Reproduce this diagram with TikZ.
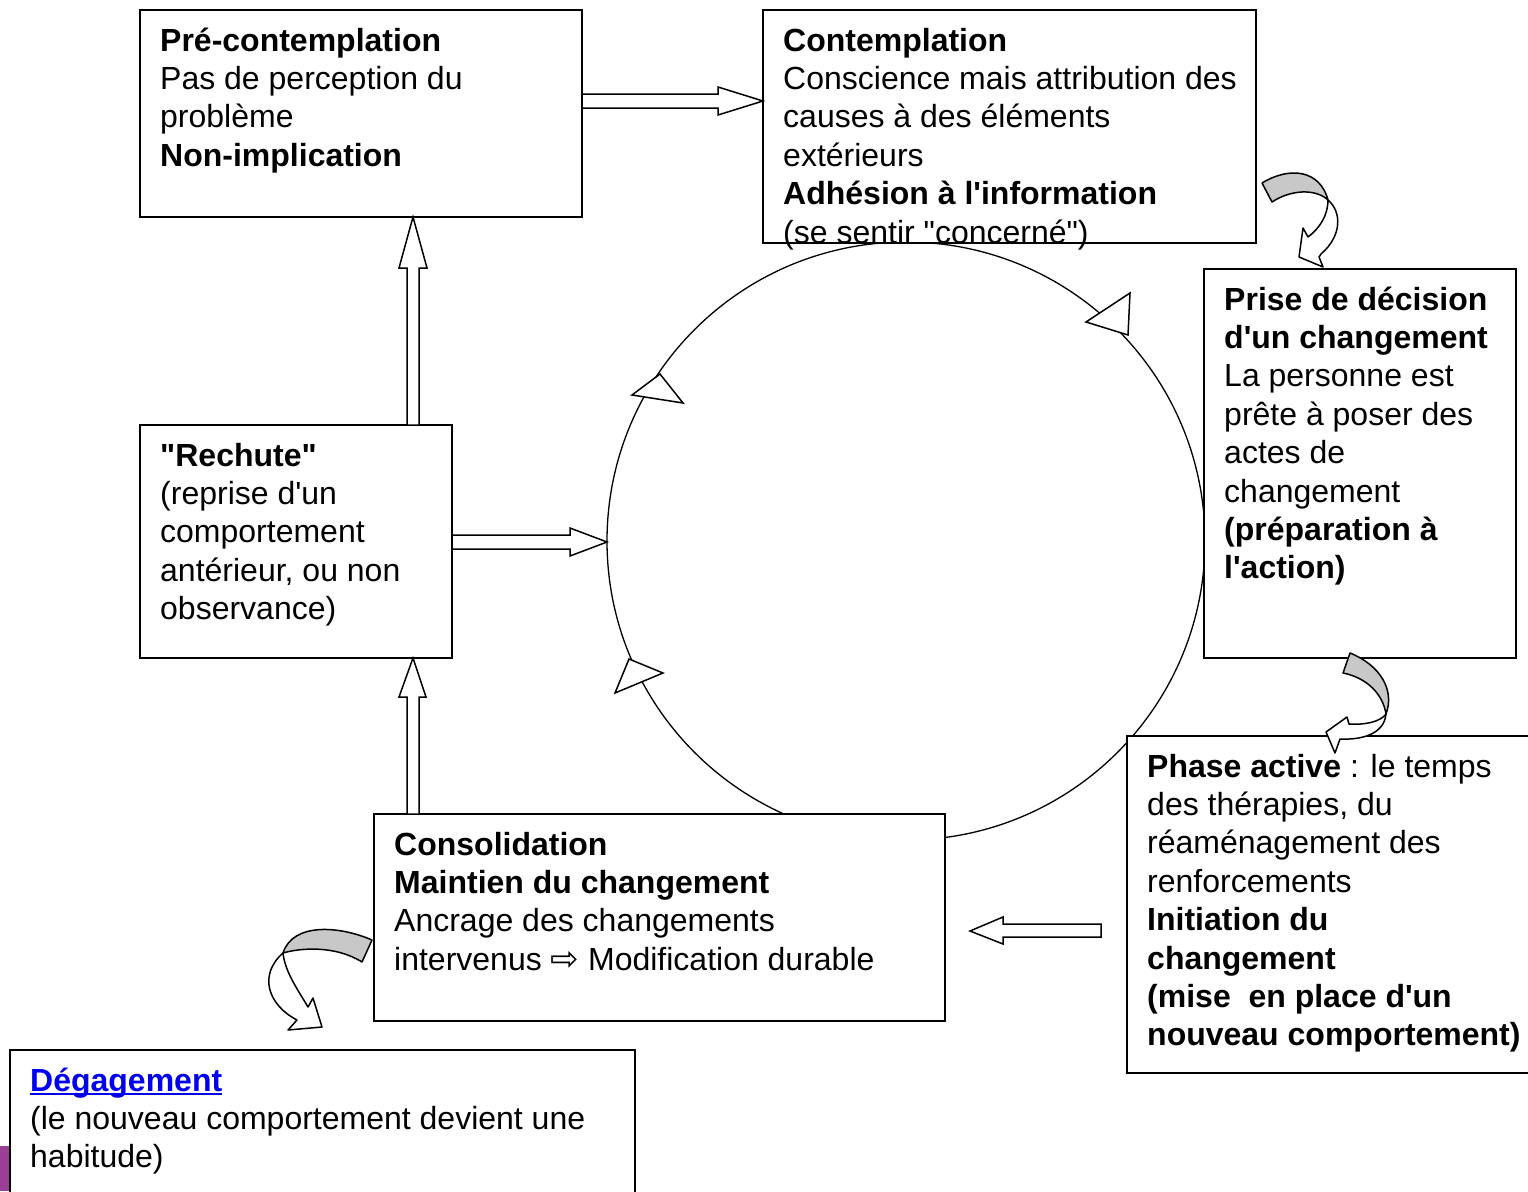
\documentclass[tikz,border=0pt]{standalone}
\usepackage{fontspec}
\newfontfamily\arial{Liberation Sans}
\newfontfamily\djv{DejaVu Sans}
\usetikzlibrary{calc}
\definecolor{bandgray}{RGB}{200,200,200}
\definecolor{linkblue}{RGB}{0,0,238}
\definecolor{barpurple}{RGB}{155,63,150}
\newsavebox\ulsave
\newcommand\ulbox[1]{\sbox{\ulsave}{#1}\rlap{\rule[-4pt]{\wd\ulsave}{1.8pt}}\usebox{\ulsave}}
\begin{document}
\begin{tikzpicture}[x=1pt,y=-1pt,
  box/.style={draw, line width=1.6pt, fill=white, inner sep=0pt, outer sep=0pt, anchor=north west},
  txt/.style={anchor=north west, inner sep=0pt, align=left, font=\arial\fontsize{32}{38.4}\selectfont},
  blk/.style={draw, line width=1.5pt, fill=white, line join=miter},
  cur/.style={draw, line width=1.5pt, line join=round},
  ring/.style={draw, line width=1.3pt}]
\useasboundingbox (0,0) rectangle (1528,1191);
% cycle circle
\draw[ring] (906,541) circle[radius=299];
\draw[blk] (1130,293) -- (1086,322) -- (1128,335) -- cycle;
\draw[blk] (660,374) -- (632,395) -- (683,403) -- cycle;
\draw[blk] (629,659) -- (663,673) -- (615,693) -- cycle;
% boxes
\node[box, minimum width=442, minimum height=207] (pre) at (140,10) {};
\node[box, minimum width=493, minimum height=233] (con) at (763,10) {};
\node[box, minimum width=312, minimum height=389] (pri) at (1204,269) {};
\node[box, minimum width=312, minimum height=233] (rec) at (140,425) {};
\node[box, minimum width=420, minimum height=337] (pha) at (1127,736) {};
\node[box, minimum width=571, minimum height=207] (cns) at (374,814) {};
\node[box, minimum width=625, minimum height=160] (deg) at (10,1050) {};
% texts
\node[txt] (preT) at ($(pre.north west)+(20,14)$) {\strut\textbf{Pré-contemplation}\\Pas de perception du\\problème\\\textbf{Non-implication}};
\node[txt] (conT) at ($(con.north west)+(20,14)$) {\strut\textbf{Contemplation}\\Conscience mais attribution des\\causes à des éléments\\extérieurs\\\textbf{Adhésion à l'information}\\(se sentir "concerné")};
\node[txt] (priT) at ($(pri.north west)+(20,14)$) {\strut\textbf{Prise de décision}\\\textbf{d'un changement}\\La personne est\\prête à poser des\\actes de\\changement\\\textbf{(préparation à}\\\textbf{l'action)}};
\node[txt] (recT) at ($(rec.north west)+(20,14)$) {\strut\textbf{"Rechute"}\\(reprise d'un\\comportement\\antérieur, ou non\\observance)};
\node[txt] (phaT) at ($(pha.north west)+(20,14)$) {\strut\textbf{Phase active} : le temps\\des thérapies, du\\réaménagement des\\renforcements\\\textbf{Initiation du}\\\textbf{changement}\\\textbf{(mise~ en place d'un}\\\textbf{nouveau comportement)}};
\node[txt] (cnsT) at ($(cns.north west)+(20,14)$) {\strut\textbf{Consolidation}\\\textbf{Maintien du changement}\\Ancrage des changements\\intervenus {\djv\fontsize{34}{38}\selectfont ⇨} Modification durable};
\node[txt] (degT) at ($(deg.north west)+(20,14)$) {\strut\textcolor{linkblue}{\ulbox{\textbf{Dégagement}}}\\(le nouveau comportement devient une\\habitude)};
% block arrows
\draw[blk] (582,94) -- (718,94) -- (718,87) -- (763,101) -- (718,115) -- (718,108) -- (582,108) -- cycle;
\draw[blk] (407,425) -- (407,268) -- (399,268) -- (413,217) -- (427,268) -- (419,268) -- (419,425) -- cycle;
\draw[blk] (407,814) -- (407,697) -- (399,697) -- (413,658) -- (426,697) -- (419,697) -- (419,814) -- cycle;
\draw[blk] (452,535) -- (570,535) -- (570,528) -- (607,542) -- (570,556) -- (570,549) -- (452,549) -- cycle;
\draw[blk] (1101,924) -- (1003,924) -- (1003,917) -- (970,931) -- (1003,944) -- (1003,937) -- (1101,937) -- cycle;
% curved arrows
\draw[cur, fill=bandgray] (1262,183) .. controls (1290,166) and (1320,170) .. (1328,200) .. controls (1315,188) and (1290,190) .. (1272,202) -- cycle;
\draw[cur, fill=white] (1328,200) .. controls (1342,212) and (1342,236) .. (1321,254) -- (1319,257) -- (1323,267) -- (1299,257) -- (1303,228) -- (1308,237) .. controls (1320,228) and (1328,215) .. (1328,200) -- cycle;
\draw[cur, fill=bandgray] (1350,653) .. controls (1380,665) and (1395,690) .. (1386,714) .. controls (1383,695) and (1368,678) .. (1343,673) -- cycle;
\draw[cur, fill=white] (1386,714) .. controls (1384,735) and (1360,740) .. (1340,739) -- (1335,753) -- (1326,732) -- (1347,717) -- (1349,724) .. controls (1365,725) and (1380,722) .. (1386,714) -- cycle;
\draw[cur, fill=bandgray] (372,940) .. controls (340,926) and (293,922) .. (283,953) .. controls (300,948) and (335,945) .. (362,962) -- cycle;
\draw[cur, fill=white] (283,953) .. controls (258,975) and (268,1005) .. (297,1020) -- (288,1030) -- (322,1027) -- (313,998) -- (308,1007) .. controls (298,990) and (285,972) .. (283,953) -- cycle;
% purple bar
\fill[barpurple] (0,1146) rectangle (9,1191);
\end{tikzpicture}
\end{document}
